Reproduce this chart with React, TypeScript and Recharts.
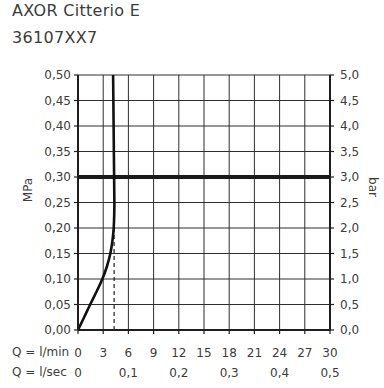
import React from "react";
import {
  LineChart,
  Line,
  XAxis,
  YAxis,
  CartesianGrid,
  ReferenceLine,
} from "recharts";

// ── data ──────────────────────────────────────────────────────────────────

const pressureMPa = [0, 0.025, 0.05, 0.075, 0.1, 0.125, 0.15, 0.175, 0.2, 0.225, 0.25, 0.3, 0.4, 0.5];
const flowLmin = [0, 0.73, 1.45, 2.2, 2.9, 3.45, 3.85, 4.1, 4.25, 4.31, 4.33, 4.3, 4.24, 4.18];

const minTicks = [0, 3, 6, 9, 12, 15, 18, 21, 24, 27, 30];
const secTicks = [0, 6, 12, 18, 24, 30]; // l/min positions of 0 … 0,5 l/sec
const mpaTicks = [0, 0.05, 0.1, 0.15, 0.2, 0.25, 0.3, 0.35, 0.4, 0.45, 0.5];
const barTicks = [0, 0.5, 1, 1.5, 2, 2.5, 3, 3.5, 4, 4.5, 5];

const ratedPressure = 0.3;
const dashFlow = 4.3;
const dashTop = 0.2;

// bar = MPa × 10, so the right axis shares the same rows
const data = pressureMPa.map((p, i) => ({ p, bar: p * 10, q: flowLmin[i] }));

// ── theme ─────────────────────────────────────────────────────────────────

const FONT = "'DejaVu Sans', sans-serif";
const TEXT = "#3c3c3c";
const TICK = { fill: TEXT, fontSize: 12, fontFamily: FONT };
const AXIS_LINE = { stroke: "#1e1e1e", strokeWidth: 2 };
const TICK_LINE = { stroke: "#1e1e1e", strokeWidth: 1.2 };

const comma = (v: number, d: number) => v.toFixed(d).replace(".", ",");

export default function App() {
  return (
    <div
      style={{
        position: "absolute",
        left: 0,
        top: 0,
        width: 384,
        height: 388,
        background: "#fff",
        fontFamily: FONT,
        color: TEXT,
      }}
    >
      <div style={{ position: "absolute", left: 12, top: 1, fontSize: 16, letterSpacing: 0.3 }}>
        AXOR Citterio E
      </div>
      <div style={{ position: "absolute", left: 12, top: 28, fontSize: 16, letterSpacing: 0.3 }}>
        36107XX7
      </div>
      <div
        style={{
          position: "absolute",
          left: 28,
          top: 190,
          fontSize: 12,
          transform: "translate(-50%, -50%) rotate(-90deg)",
        }}
      >
        MPa
      </div>
      <div
        style={{
          position: "absolute",
          left: 373,
          top: 187,
          fontSize: 12,
          transform: "translate(-50%, -50%) rotate(90deg)",
        }}
      >
        bar
      </div>
      <div style={{ position: "absolute", left: 12, top: 345, fontSize: 12 }}>Q = l/min</div>
      <div style={{ position: "absolute", left: 12, top: 365, fontSize: 12 }}>Q = l/sec</div>

      <LineChart
        width={384}
        height={388}
        data={data}
        margin={{ top: 75, right: 0, bottom: 6, left: 0 }}
        style={{ position: "absolute", left: 0, top: 0 }}
      >
        <CartesianGrid stroke="#2e2e2e" strokeWidth={1} />
        <XAxis
          type="number"
          dataKey="q"
          domain={[0, 30]}
          ticks={minTicks}
          interval={0}
          allowDataOverflow
          height={22}
          tick={TICK}
          axisLine={AXIS_LINE}
          tickLine={TICK_LINE}
          tickSize={4}
          tickMargin={14}
        />
        <XAxis
          xAxisId="sec"
          type="number"
          dataKey="q"
          domain={[0, 30]}
          ticks={secTicks}
          interval={0}
          allowDataOverflow
          height={30}
          tick={TICK}
          axisLine={false}
          tickLine={false}
          tickSize={0}
          tickMargin={16}
          tickFormatter={(v: number) => (v === 0 ? "0" : comma(v / 60, 1))}
        />
        <YAxis
          type="number"
          domain={[0, 0.5]}
          ticks={mpaTicks}
          interval={0}
          allowDataOverflow
          width={78}
          tick={TICK}
          axisLine={AXIS_LINE}
          tickLine={TICK_LINE}
          tickSize={4}
          tickMargin={3}
          tickFormatter={(v: number) => comma(v, 2)}
        />
        <YAxis
          yAxisId="bar"
          orientation="right"
          type="number"
          domain={[0, 5]}
          ticks={barTicks}
          interval={0}
          allowDataOverflow
          width={54}
          tick={TICK}
          axisLine={AXIS_LINE}
          tickLine={TICK_LINE}
          tickSize={4}
          tickMargin={6}
          tickFormatter={(v: number) => comma(v, 1)}
        />
        <ReferenceLine y={ratedPressure} stroke="#1a1a1a" strokeWidth={4} />
        <ReferenceLine
          segment={[
            { x: dashFlow, y: 0 },
            { x: dashFlow, y: dashTop },
          ]}
          stroke="#1e1e1e"
          strokeWidth={1.2}
          strokeDasharray="4 3"
        />
        {/* same curve on the bar scale, invisible, so the right axis gets its ticks */}
        <Line
          yAxisId="bar"
          xAxisId="sec"
          dataKey="bar"
          type="natural"
          stroke="none"
          dot={false}
          activeDot={false}
          isAnimationActive={false}
        />
        <Line
          dataKey="p"
          type="natural"
          stroke="#111"
          strokeWidth={2.6}
          dot={false}
          isAnimationActive={false}
        />
      </LineChart>
    </div>
  );
}
